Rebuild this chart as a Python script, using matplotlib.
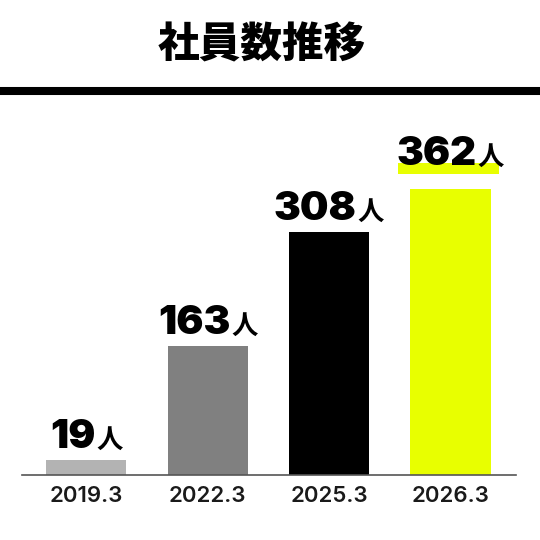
import matplotlib
matplotlib.use('Agg')
import matplotlib.pyplot as plt
from matplotlib.patches import Rectangle

# データ
years = ['2019.3', '2022.3', '2025.3', '2026.3']
staff = [19, 163, 308, 362]
colors = ['#b3b3b3', '#808080', '#000000', '#e8ff00']
title = '社員数推移'
unit = '人'

W = H = 540
fig = plt.figure(figsize=(5.4, 5.4), dpi=100)
fig.patch.set_facecolor('white')

# タイトルと太線
fig.text(262 / W, 1 - 45 / H, title, ha='center', va='center', fontsize=30,
         fontweight='black', family=['Noto Sans CJK JP', 'DejaVu Sans'])
fig.add_artist(plt.Line2D([0, 1], [1 - 91 / H, 1 - 91 / H], color='black',
                          linewidth=5.8, transform=fig.transFigure))

ax = fig.add_axes([22 / W, 65 / H, (516 - 22) / W, 395 / H])
x = range(len(years))
ax.bar(x, staff, width=0.66, color=colors, zorder=2)
ax.set_xlim(-0.53, 3.54)
ax.set_ylim(0, 500)
for s in ['top', 'right', 'left']:
    ax.spines[s].set_visible(False)
ax.spines['bottom'].set_color('#555555')
ax.spines['bottom'].set_linewidth(1.2)
ax.set_yticks([])
ax.set_xticks(list(x))
ax.set_xticklabels(years, fontsize=16, family='Inter', fontweight='semibold',
                   color='#1a1a1a')
ax.tick_params(axis='x', length=0, pad=8)

# 数値ラベル
fig.canvas.draw()
r = fig.canvas.get_renderer()
for i, v in enumerate(staff):
    xc, ytop = ax.transData.transform((i, v))
    t1 = fig.text(0, 0, str(v), fontsize=29, fontweight='black', family='Inter',
                  va='baseline', ha='left', color='black', zorder=5)
    t2 = fig.text(0, 0, unit, fontsize=19, fontweight='bold',
                  family=['Noto Sans CJK JP', 'DejaVu Sans'],
                  va='baseline', ha='left', color='black', zorder=5)
    w1 = t1.get_window_extent(r).width
    w2 = t2.get_window_extent(r).width
    gap = 1
    x0 = xc - (w1 + gap + w2) / 2
    pad = 24 if i == len(staff) - 1 else 12
    yb = ytop + pad
    t1.set_position((x0 / W, yb / H))
    t2.set_position(((x0 + w1 + gap) / W, yb / H))
    if i == len(staff) - 1:
        hl = Rectangle(((x0 + 1) / W, (yb - 9) / H), (w1 + gap + w2 - 6) / W, 11 / H,
                       transform=fig.transFigure, facecolor=colors[-1],
                       edgecolor='none', zorder=1)
        fig.add_artist(hl)

fig.savefig('out.png', dpi=100, facecolor='white')
